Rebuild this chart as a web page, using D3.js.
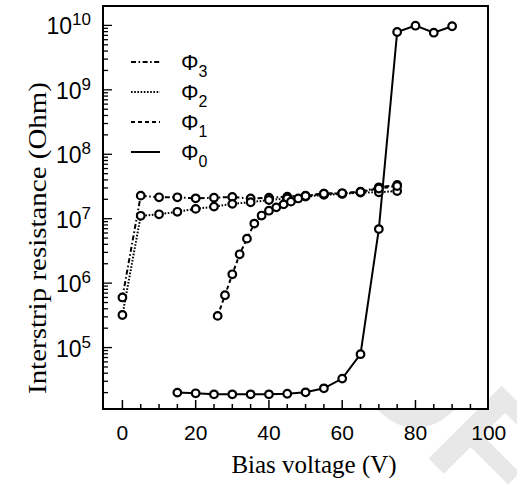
<!DOCTYPE html>
<html>
<head>
<meta charset="utf-8">
<script src="https://d3js.org/d3.v7.min.js"></script>
<style>
  body { margin: 0; background: #fff; }
</style>
</head>
<body>
  <div id="my_dataviz"></div>
  <script>
    // values
    var voltsPhi0 = [15, 20, 25, 30, 35, 40, 45, 50, 55, 60, 65, 70, 75, 80, 85, 90];
    var resPhi0 = [2.0e4, 1.95e4, 1.88e4, 1.88e4, 1.88e4, 1.88e4, 1.92e4, 2.02e4, 2.33e4, 3.3e4, 7.9e4, 6.9e6, 7.9e9, 9.9e9, 7.7e9, 9.7e9];

    var voltsPhi1 = [26, 28, 30, 32, 34, 36, 38, 40, 42, 44, 46, 48, 50, 55, 60, 65, 70, 75];
    var resPhi1 = [3.1e5, 6.5e5, 1.37e6, 2.8e6, 4.9e6, 8.4e6, 1.12e7, 1.33e7, 1.5e7, 1.67e7, 1.84e7, 2.06e7, 2.25e7, 2.44e7, 2.48e7, 2.6e7, 2.94e7, 3.22e7];

    var voltsPhi2 = [0, 5, 10, 15, 20, 25, 30, 35, 40, 45, 50, 55, 60, 65, 70, 75];
    var resPhi2 = [3.2e5, 1.11e7, 1.17e7, 1.28e7, 1.42e7, 1.54e7, 1.7e7, 1.8e7, 1.95e7, 2.06e7, 2.2e7, 2.34e7, 2.42e7, 2.55e7, 2.57e7, 2.69e7];

    var voltsPhi3 = [0, 5, 10, 15, 20, 25, 30, 35, 40, 45, 50, 55, 60, 65, 70, 75];
    var resPhi3 = [6.0e5, 2.28e7, 2.15e7, 2.15e7, 2.07e7, 2.12e7, 2.17e7, 2.06e7, 2.12e7, 2.2e7, 2.28e7, 2.44e7, 2.48e7, 2.62e7, 3.07e7, 3.34e7];

    var xTickLabels = [0, 20, 40, 60, 80, 100];
    var yTickExps = [5, 6, 7, 8, 9, 10];
    var legendSubs = ["3", "2", "1", "0"];

    var width = 517, height = 484;
    var plotLeft = 103, plotRight = 488, plotTop = 6, plotBottom = 409;

    var svg = d3.select("#my_dataviz")
      .append("svg")
      .attr("width", width)
      .attr("height", height);

    // watermark only shows outside the plot box
    svg.append("clipPath")
      .attr("id", "outside")
      .append("path")
      .attr("clip-rule", "evenodd")
      .attr("d", "M0,0H" + width + "V" + height + "H0Z M" + plotLeft + "," + plotTop +
        "V" + plotBottom + "H" + plotRight + "V" + plotTop + "Z");

    // faint "OF" watermark from the scan (end of a diagonal "PROOF")
    svg.append("g")
      .attr("clip-path", "url(#outside)")
      .append("text")
      .attr("transform", "translate(339,369) rotate(45)")
      .style("font-family", "Liberation Sans, Arial, sans-serif")
      .style("font-weight", "bold")
      .style("font-size", "150px")
      .style("fill", "#e8e8e8")
      .text("OF");

    var x = d3.scaleLinear().domain([-5.3, 99.8]).range([plotLeft, plotRight]);
    var y = d3.scaleLog().domain([1e4, 2e10]).range([412, plotTop]);

    // frame
    svg.append("rect")
      .attr("x", plotLeft).attr("y", plotTop)
      .attr("width", plotRight - plotLeft).attr("height", plotBottom - plotTop)
      .style("fill", "none").style("stroke", "#000").style("stroke-width", 2);

    // x ticks, inward
    var xTicks = d3.range(0, 100, 5);
    svg.selectAll(".xtick")
      .data(xTicks)
      .enter()
      .append("line")
      .attr("x1", function(d) { return x(d); })
      .attr("x2", function(d) { return x(d); })
      .attr("y1", plotBottom)
      .attr("y2", function(d) { return d % 20 == 0 ? plotBottom - 9 : plotBottom - 5; })
      .style("stroke", "#000").style("stroke-width", 1.5);

    svg.selectAll(".xlab")
      .data(xTickLabels)
      .enter()
      .append("text")
      .attr("x", function(d) { return x(d); })
      .attr("y", 440)
      .attr("text-anchor", "middle")
      .style("font-family", "Liberation Sans, Arial, sans-serif")
      .style("font-size", "21px")
      .text(function(d) { return d; });

    // y ticks, inward, decades plus 2..9
    var yTicks = [];
    for (var e = 4; e <= 10; e++) {
      for (var m = 1; m <= 9; m++) {
        var v = m * Math.pow(10, e);
        if (y(v) < plotBottom - 0.5 && y(v) > plotTop + 1 && v <= 1e10) yTicks.push({v: v, major: m == 1});
      }
    }
    svg.selectAll(".ytick")
      .data(yTicks)
      .enter()
      .append("line")
      .attr("x1", plotLeft)
      .attr("x2", function(d) { return d.major ? plotLeft + 9 : plotLeft + 5; })
      .attr("y1", function(d) { return y(d.v); })
      .attr("y2", function(d) { return y(d.v); })
      .style("stroke", "#000").style("stroke-width", 1.3);

    var ylab = svg.selectAll(".ylab")
      .data(yTickExps)
      .enter()
      .append("text")
      .attr("x", 91)
      .attr("y", function(d) { return y(Math.pow(10, d)) + 9; })
      .attr("text-anchor", "end")
      .style("font-family", "Liberation Sans, Arial, sans-serif")
      .style("font-size", "23px");
    ylab.append("tspan").text("10");
    ylab.append("tspan")
      .attr("dy", -9)
      .style("font-size", "17px")
      .text(function(d) { return d; });

    // axis titles
    svg.append("text")
      .attr("x", 314)
      .attr("y", 473)
      .attr("text-anchor", "middle")
      .style("font-family", "Liberation Serif, Times New Roman, serif")
      .style("font-size", "25px")
      .text("Bias voltage (V)");

    svg.append("text")
      .attr("transform", "translate(46,238) rotate(-90)")
      .attr("text-anchor", "middle")
      .attr("textLength", 312)
      .attr("lengthAdjust", "spacingAndGlyphs")
      .style("font-family", "Liberation Serif, Times New Roman, serif")
      .style("font-size", "26px")
      .text("Interstrip resistance (Ohm)");

    // series
    var series = [
      {name: legendSubs[0], volts: voltsPhi3, res: resPhi3, dash: "5,2.5,1.6,2.5"},
      {name: legendSubs[1], volts: voltsPhi2, res: resPhi2, dash: "1.6,1.6"},
      {name: legendSubs[2], volts: voltsPhi1, res: resPhi1, dash: "4,3"},
      {name: legendSubs[3], volts: voltsPhi0, res: resPhi0, dash: null}
    ];

    var line = d3.line()
      .x(function(d) { return x(d[0]); })
      .y(function(d) { return y(d[1]); });

    series.forEach(function(s) {
      var pts = d3.zip(s.volts, s.res);
      svg.append("path")
        .datum(pts)
        .attr("d", line)
        .style("fill", "none")
        .style("stroke", "#000")
        .style("stroke-width", 2)
        .style("stroke-dasharray", s.dash);
    });

    series.forEach(function(s) {
      var pts = d3.zip(s.volts, s.res);
      svg.selectAll(null)
        .data(pts)
        .enter()
        .append("circle")
        .attr("cx", function(d) { return x(d[0]); })
        .attr("cy", function(d) { return y(d[1]); })
        .attr("r", 3.8)
        .style("fill", "#fff")
        .style("stroke", "#000")
        .style("stroke-width", 2.2);
    });

    // legend
    var leg = svg.selectAll(".leg")
      .data(series)
      .enter()
      .append("g")
      .attr("transform", function(d, i) { return "translate(0," + (62 + i * 30) + ")"; });
    leg.append("line")
      .attr("x1", 131).attr("x2", 160)
      .attr("y1", 0).attr("y2", 0)
      .style("stroke", "#000")
      .style("stroke-width", 2)
      .style("stroke-dasharray", function(d) { return d.dash; });
    var legText = leg.append("text")
      .attr("x", 181)
      .attr("y", 8)
      .style("font-family", "Liberation Sans, Arial, sans-serif")
      .style("font-size", "22px");
    legText.append("tspan").text("\u03A6");
    legText.append("tspan")
      .attr("dy", 7)
      .style("font-size", "16px")
      .text(function(d) { return d.name; });
  </script>
</body>
</html>
